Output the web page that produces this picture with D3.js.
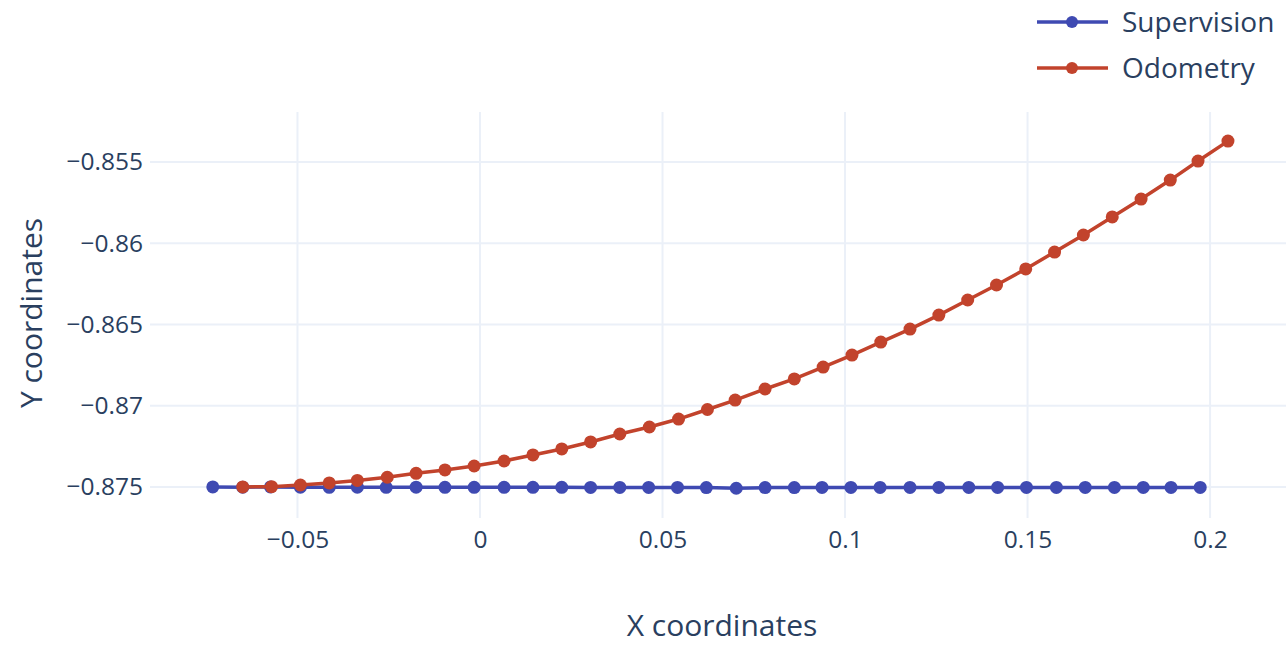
<!DOCTYPE html>
<html>
<head>
<meta charset="utf-8">
<script src="https://cdn.jsdelivr.net/npm/d3@7"></script>
<style>
    body { margin: 0; background: #fff; }
    text { font-family: "Open Sans", sans-serif; fill: #2a3f5f; }
    .grid line { stroke: #ebf0f8; stroke-width: 2; }
</style>
</head>
<body>
<div id="chart"></div>
<script>
const SERIES_NAMES = ["Supervision", "Odometry"];
const SERIES_COLORS = ["#3f4ab2", "#c2432c"];

const supervisionX = [-0.0732, -0.0650, -0.0574, -0.0492, -0.0413, -0.0336, -0.0257, -0.0175, -0.0096, -0.0016,
    0.0066, 0.0145, 0.0224, 0.0303, 0.0383, 0.0462, 0.0541, 0.0620, 0.0702, 0.0781,
    0.0861, 0.0937, 0.1016, 0.1096, 0.1178, 0.1257, 0.1339, 0.1418, 0.1497, 0.1579,
    0.1658, 0.1738, 0.1817, 0.1893, 0.1973];
const supervisionY = [-0.87500, -0.87501, -0.87500, -0.87501, -0.87502, -0.87501, -0.87502, -0.87501, -0.87502, -0.87502,
    -0.87502, -0.87502, -0.87502, -0.87503, -0.87503, -0.87503, -0.87503, -0.87504, -0.87508, -0.87504,
    -0.87504, -0.87503, -0.87503, -0.87503, -0.87503, -0.87503, -0.87503, -0.87503, -0.87503, -0.87503,
    -0.87503, -0.87503, -0.87503, -0.87503, -0.87503];

const odometryX = [-0.0650, -0.0571, -0.0492, -0.0413, -0.0336, -0.0254, -0.0175, -0.0096, -0.0016, 0.0066,
    0.0145, 0.0224, 0.0303, 0.0383, 0.0464, 0.0544, 0.0623, 0.0699, 0.0781, 0.0861,
    0.0940, 0.1019, 0.1098, 0.1178, 0.1257, 0.1336, 0.1415, 0.1495, 0.1574, 0.1653,
    0.1732, 0.1811, 0.1891, 0.1967, 0.2049];
const odometryY = [-0.87500, -0.87498, -0.87488, -0.87475, -0.87460, -0.87440, -0.87416, -0.87395, -0.87371, -0.87340,
    -0.87303, -0.87266, -0.87223, -0.87174, -0.87131, -0.87082, -0.87023, -0.86965, -0.86897, -0.86835,
    -0.86762, -0.86688, -0.86608, -0.86528, -0.86442, -0.86349, -0.86257, -0.86158, -0.86054, -0.85949,
    -0.85838, -0.85728, -0.85611, -0.85494, -0.85371];

const X_TICKS = [-0.05, 0, 0.05, 0.1, 0.15, 0.2];
const Y_TICKS = [-0.875, -0.87, -0.865, -0.86, -0.855];

const WIDTH = 1286, HEIGHT = 646;
const PLOT = { left: 150, right: 1286, top: 112, bottom: 518 };

const x = d3.scaleLinear().domain([-0.0904, 0.2208]).range([PLOT.left, PLOT.right]);
const y = d3.scaleLinear().domain([-0.87691, -0.85192]).range([PLOT.bottom, PLOT.top]);

// plotly style minus sign, no trailing zeros
const fmt = v => (v === 0 ? "0" : String(+v.toFixed(3)).replace("-", "\u2212"));

const svg = d3.select("#chart").append("svg")
    .attr("width", WIDTH)
    .attr("height", HEIGHT);

svg.append("g")
    .attr("class", "grid")
    .selectAll("line")
    .data(X_TICKS)
    .enter()
    .append("line")
    .attr("x1", d => x(d)).attr("x2", d => x(d))
    .attr("y1", PLOT.top).attr("y2", PLOT.bottom);

svg.append("g")
    .attr("class", "grid")
    .selectAll("line")
    .data(Y_TICKS)
    .enter()
    .append("line")
    .attr("x1", PLOT.left).attr("x2", PLOT.right)
    .attr("y1", d => y(d)).attr("y2", d => y(d));

// axes, ticks only as labels
const xAxis = svg.append("g")
    .attr("transform", `translate(0,${PLOT.bottom})`)
    .call(d3.axisBottom(x).tickValues(X_TICKS).tickFormat(fmt).tickSize(0).tickPadding(13));
const yAxis = svg.append("g")
    .attr("transform", `translate(${PLOT.left},0)`)
    .call(d3.axisLeft(y).tickValues(Y_TICKS).tickFormat(fmt).tickSize(0).tickPadding(7));
[xAxis, yAxis].forEach(a => {
    a.select(".domain").remove();
    a.selectAll("text").attr("font-family", null).attr("font-size", 24.5).attr("fill", null);
});

svg.append("text")
    .attr("x", (PLOT.left + PLOT.right) / 2 + 4)
    .attr("y", 636)
    .attr("text-anchor", "middle")
    .attr("font-size", 30)
    .text("X coordinates");

svg.append("text")
    .attr("transform", `translate(42,${(PLOT.top + PLOT.bottom) / 2 - 2}) rotate(-90)`)
    .attr("text-anchor", "middle")
    .attr("font-size", 30)
    .text("Y coordinates");

const series = [
    { name: SERIES_NAMES[0], color: SERIES_COLORS[0], xs: supervisionX, ys: supervisionY },
    { name: SERIES_NAMES[1], color: SERIES_COLORS[1], xs: odometryX, ys: odometryY }
];

const line = d3.line().x(d => x(d[0])).y(d => y(d[1]));

series.forEach(s => {
    const pts = d3.zip(s.xs, s.ys);
    const g = svg.append("g");
    g.append("path")
        .datum(pts)
        .attr("fill", "none")
        .attr("stroke", s.color)
        .attr("stroke-width", 3.5)
        .attr("d", line);
    g.selectAll("circle")
        .data(pts)
        .enter()
        .append("circle")
        .attr("cx", d => x(d[0]))
        .attr("cy", d => y(d[1]))
        .attr("r", 6.5)
        .attr("fill", s.color);
});

// legend
const legend = svg.append("g").attr("transform", "translate(1037,22)");
const rows = legend.selectAll("g")
    .data(series)
    .enter()
    .append("g")
    .attr("transform", (d, i) => `translate(0,${i * 46})`);
rows.append("line")
    .attr("x1", 0).attr("x2", 71)
    .attr("stroke", d => d.color)
    .attr("stroke-width", 3.5);
rows.append("circle")
    .attr("cx", 35).attr("r", 6)
    .attr("fill", d => d.color);
rows.append("text")
    .attr("x", 85)
    .attr("dy", "0.35em")
    .attr("font-size", 28)
    .text(d => d.name);
</script>
</body>
</html>
